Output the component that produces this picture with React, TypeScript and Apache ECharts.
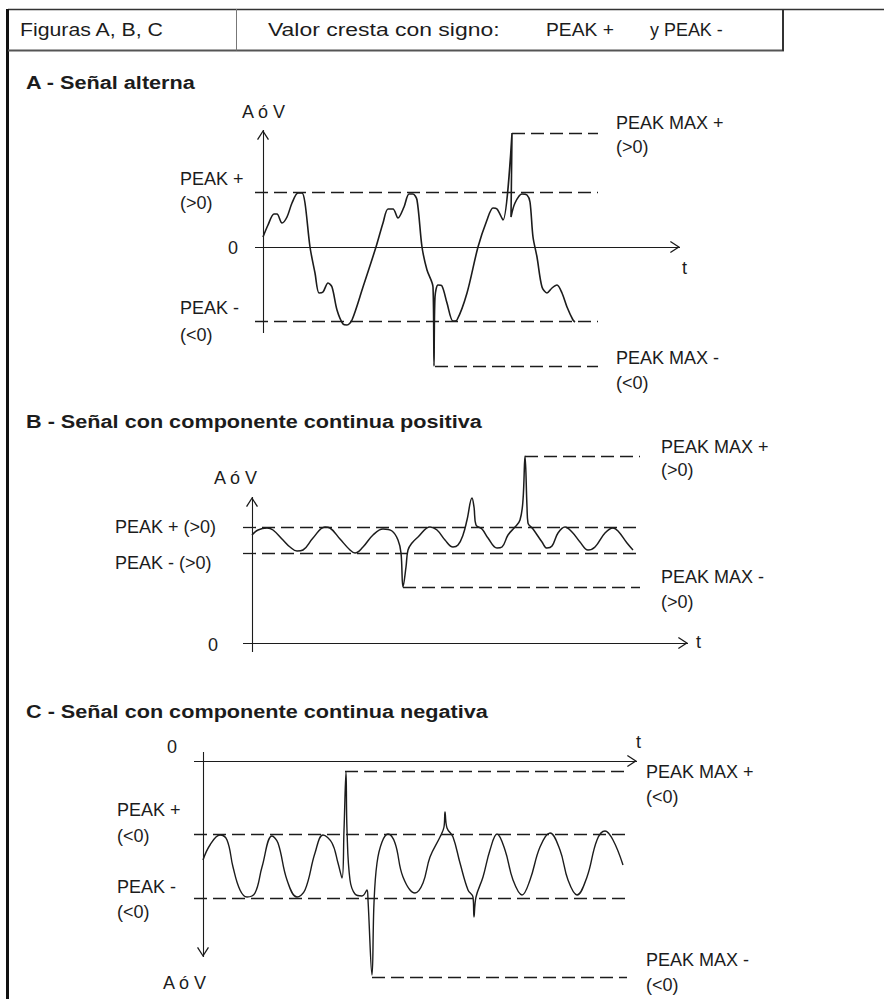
import React, { useEffect, useRef } from "react";
import * as echarts from "echarts";

const FONT = '"Liberation Sans", Arial, Helvetica, sans-serif';
const INK = "#1c1c1c";

// ---------- Panel A : señal alterna (t, amplitude) ----------
const signalA: number[][] = [
  [0.0, 1.0], [0.5, 2.2], [1.1, 3.3], [1.4, 3.3], [1.9, 2.4], [2.4, 3.0], [2.9, 4.4], [3.5, 5.4],
  [3.9, 5.4], [4.2, 4.4], [4.7, 0.0], [5.2, -2.6], [5.6, -4.6], [6.0, -4.5], [6.5, -3.6], [6.9, -4.0],
  [7.4, -6.3], [8.0, -7.7], [8.4, -7.8], [8.9, -7.3], [10.0, -4.0], [11.3, 0.0], [12.0, 2.4], [12.5, 3.8],
  [13.0, 3.8], [13.5, 2.9], [14.1, 4.0], [14.6, 5.3], [15.0, 5.3], [15.4, 4.7], [15.9, 0.0], [16.4, -2.3],
  [17.0, -4.0], [17.1, -11.9], [17.2, -5.0], [17.5, -3.8], [17.9, -3.9], [18.4, -5.6], [19.0, -7.4],
  [19.4, -7.3], [20.4, -4.6], [21.5, 0.0], [22.4, 2.7], [23.0, 3.9], [23.4, 3.8], [24.0, 2.7],
  [24.9, 11.4], [24.8, 3.0], [25.2, 4.4], [25.9, 5.3], [26.4, 5.2], [26.7, 4.5], [27.0, 1.0],
  [27.4, -1.0], [27.9, -4.0], [28.4, -4.6], [28.9, -4.1], [29.4, -3.8], [29.9, -4.6], [30.4, -6.0],
  [31.0, -7.3], [31.2, -7.5],
];
const peaksA = [5.5, -7.4]; // PEAK +, PEAK -
const peakMaxA = [11.4, -11.9]; // PEAK MAX +, PEAK MAX -
const peakMaxFromA = [24.9, 17.2];
const levelSpanA = [-0.8, 33.5];
const axisTA = [-0.8, 41.7];
const axisVA = [-8.6, 11.7];

// ---------- Panel B : componente continua positiva ----------
const signalB: number[][] = [
  [0.0, 10.8], [0.6, 11.3], [1.5, 11.5], [2.1, 11.3], [3.1, 10.3], [3.8, 9.6], [4.5, 9.2], [5.1, 9.3],
  [6.1, 10.5], [7.3, 11.6], [7.8, 11.5], [8.8, 10.4], [9.8, 9.3], [10.3, 9.0], [11.1, 9.6], [12.1, 10.8],
  [13.1, 11.4], [14.0, 11.2], [14.6, 10.3], [14.9, 9.0], [15.1, 5.6], [15.4, 7.6], [15.6, 9.3], [16.0, 10.0],
  [16.6, 10.6], [17.8, 11.6], [18.5, 11.3], [19.3, 10.3], [20.1, 9.6], [20.6, 9.8], [21.1, 10.8],
  [21.5, 12.3], [22.0, 14.5], [22.2, 13.6], [22.4, 11.8], [23.0, 11.4], [23.6, 10.5], [24.5, 9.5],
  [25.0, 9.6], [25.6, 10.8], [26.3, 11.6], [26.8, 12.3], [27.1, 14.3], [27.3, 18.7], [27.5, 13.6],
  [27.6, 12.0], [28.1, 11.4], [29.0, 10.1], [29.5, 9.5], [30.0, 9.7], [30.6, 11.0], [31.3, 11.6],
  [32.0, 11.1], [32.8, 10.1], [33.6, 9.3], [34.3, 9.6], [35.3, 11.0], [36.1, 11.5], [36.6, 11.2],
  [37.5, 10.0], [38.1, 9.3],
];
const peaksB = [11.6, 9.0];
const peakMaxB = [18.7, 5.6];
const peakMaxFromB = [27.3, 15.1];
const levelSpanB = [-0.9, 38.8];
const axisTB = [-0.9, 43.6];
const axisVB = [-0.9, 14.6];

// ---------- Panel C : componente continua negativa ----------
const signalC: number[][] = [
  [0.0, -9.9], [0.7, -8.4], [1.7, -7.4], [2.4, -7.9], [3.0, -10.6], [3.7, -12.9], [4.4, -13.6],
  [5.2, -13.2], [5.9, -10.6], [6.9, -7.5], [7.5, -8.2], [8.4, -11.9], [9.4, -13.6], [10.2, -12.9],
  [11.2, -9.2], [12.0, -7.4], [12.9, -8.2], [13.5, -10.2], [13.9, -11.7], [14.1, -6.9], [14.3, -1.1],
  [14.4, -6.9], [14.7, -11.9], [15.2, -13.3], [15.9, -13.5], [16.4, -12.9], [16.5, -13.9], [16.9, -21.4],
  [17.1, -14.2], [17.4, -10.2], [17.9, -8.1], [18.5, -7.3], [19.2, -8.2], [20.0, -11.6], [21.2, -13.2],
  [22.0, -12.2], [22.7, -9.6], [23.7, -7.6], [24.1, -6.6], [24.2, -5.1], [24.4, -6.7], [25.0, -7.6],
  [25.7, -10.2], [26.5, -12.9], [27.0, -13.6], [27.1, -15.6], [27.3, -13.6], [28.0, -11.6], [28.7, -8.9],
  [29.4, -7.3], [30.2, -8.9], [31.0, -11.9], [31.9, -13.4], [32.7, -11.9], [33.7, -8.6], [34.7, -7.2],
  [35.7, -8.9], [36.5, -11.9], [37.4, -13.4], [38.4, -11.6], [39.4, -7.9], [40.2, -7.0], [41.0, -7.9],
  [42.0, -10.4],
];
const peaksC = [-7.3, -13.7];
const peakMaxC = [-1.0, -21.6];
const peakMaxFromC = [14.2, 16.9];
const levelSpanC = [-0.9, 42.4];
const axisTC = [-0.9, 43.4];
const axisVC = [0.9, -19.6];

const CHEVRON = "path://M6,0 L12,10 L10.9,10.8 L6,2.5 L1.1,10.8 L0,10 Z";

function panelSeries(
  i: number,
  signal: number[][],
  peaks: number[],
  peakMax: number[],
  peakMaxFrom: number[],
  levelSpan: number[],
  axisT: number[],
  axisV: number[],
  width: number,
  smooth: number
) {
  const dash = { color: INK, width: 1.3, type: [13, 6] };
  const solid = { color: INK, width: 1.1, type: "solid" };
  const seg = (a: number[], b: number[], st: any) => [
    { coord: a, lineStyle: st },
    { coord: b, lineStyle: st },
  ];
  const arrow = (a: number[], b: number[]) => [
    { coord: a, lineStyle: solid, symbol: "none" },
    { coord: b, lineStyle: solid, symbol: CHEVRON, symbolSize: [12, 10], symbolOffset: [0, 5] },
  ];
  return {
    type: "line",
    xAxisIndex: i,
    yAxisIndex: i,
    data: signal,
    symbol: "none",
    showSymbol: false,
    smooth,
    clip: false,
    silent: true,
    lineStyle: { color: INK, width },
    markLine: {
      silent: true,
      animation: false,
      symbol: ["none", "none"],
      label: { show: false },
      emphasis: { disabled: true },
      data: [
        seg([levelSpan[0], peaks[0]], [levelSpan[1], peaks[0]], dash),
        seg([levelSpan[0], peaks[1]], [levelSpan[1], peaks[1]], dash),
        seg([peakMaxFrom[0], peakMax[0]], [levelSpan[1], peakMax[0]], dash),
        seg([peakMaxFrom[1], peakMax[1]], [levelSpan[1], peakMax[1]], dash),
        arrow([axisT[0], 0], [axisT[1], 0]),
        arrow([0, axisV[0]], [0, axisV[1]]),
      ],
    },
  };
}

const txt = (text: string, x: number, y: number, size = 18, bold = false, sx = 1) => ({
  type: "text",
  x,
  y,
  scaleX: sx,
  silent: true,
  style: {
    text,
    fill: INK,
    font: `${bold ? "bold " : ""}${size}px ${FONT}`,
    textVerticalAlign: "middle",
    verticalAlign: "middle",
  },
});

const ln = (x1: number, y1: number, x2: number, y2: number, w: number, c: string) => ({
  type: "line",
  silent: true,
  shape: { x1, y1, x2, y2 },
  style: { stroke: c, lineWidth: w },
});

export default function App() {
  const ref = useRef<HTMLDivElement>(null);
  useEffect(() => {
    const chart = echarts.init(ref.current!, null, { renderer: "svg" });
    const axisCommon = { type: "value", show: false, scale: false };
    const option: any = {
      animation: false,
      backgroundColor: "#ffffff",
      grid: [
        { left: 243, top: 117, width: 450, height: 260, containLabel: false },
        { left: 232, top: 423, width: 470, height: 240, containLabel: false },
        { left: 183, top: 741, width: 470, height: 250, containLabel: false },
      ],
      xAxis: [
        { ...axisCommon, gridIndex: 0, min: -2, max: 43 },
        { ...axisCommon, gridIndex: 1, min: -2, max: 45 },
        { ...axisCommon, gridIndex: 2, min: -2, max: 45 },
      ],
      yAxis: [
        { ...axisCommon, gridIndex: 0, min: -13, max: 13 },
        { ...axisCommon, gridIndex: 1, min: -2, max: 22 },
        { ...axisCommon, gridIndex: 2, min: -23, max: 2 },
      ],
      series: [
        panelSeries(0, signalA, peaksA, peakMaxA, peakMaxFromA, levelSpanA, axisTA, axisVA, 1.6, 0.3),
        panelSeries(1, signalB, peaksB, peakMaxB, peakMaxFromB, levelSpanB, axisTB, axisVB, 1.5, 0.4),
        panelSeries(2, signalC, peaksC, peakMaxC, peakMaxFromC, levelSpanC, axisTC, axisVC, 1.4, 0.4),
      ],
      graphic: {
        elements: [
          // frame
          ln(8, 9.5, 884, 9.5, 1.5, "#333"),
          ln(7.5, 9, 7.5, 999, 3, "#111"),
          ln(8, 50.5, 784, 50.5, 2, "#555"),
          ln(783, 9, 783, 51, 2, "#333"),
          ln(236.5, 9, 236.5, 50.5, 1, "#777"),
          // header
          txt("Figuras A, B, C", 20, 29.5, 18.5, false, 1.15),
          txt("Valor cresta con signo:", 268, 29.5, 18.5, false, 1.24),
          txt("PEAK +", 546, 29.5, 18.5, false, 1.04),
          txt("y PEAK -", 650, 29.5, 18.5, false, 0.97),
          // titles
          txt("A - Señal alterna", 26, 82, 19, true, 1.14),
          txt("B - Señal con componente continua positiva", 26, 421.5, 19, true, 1.14),
          txt("C - Señal con componente continua negativa", 26, 711.5, 19, true, 1.14),
          // panel A
          txt("A ó V", 242, 112),
          txt("PEAK +", 180, 179),
          txt("(>0)", 180, 203),
          txt("0", 228, 248),
          txt("PEAK -", 180, 308),
          txt("(<0)", 180, 335),
          txt("t", 682, 268),
          txt("PEAK MAX +", 616, 123),
          txt("(>0)", 616, 147),
          txt("PEAK MAX -", 616, 358),
          txt("(<0)", 616, 383),
          // panel B
          txt("A ó V", 214, 478),
          txt("PEAK + (>0)", 115, 527),
          txt("PEAK - (>0)", 115, 563),
          txt("0", 208, 645),
          txt("t", 696, 642),
          txt("PEAK MAX +", 661, 447),
          txt("(>0)", 661, 470),
          txt("PEAK MAX -", 661, 577),
          txt("(>0)", 661, 602),
          // panel C
          txt("0", 167, 747),
          txt("t", 636, 742),
          txt("PEAK +", 117, 810),
          txt("(<0)", 117, 836),
          txt("PEAK -", 117, 887),
          txt("(<0)", 117, 912),
          txt("A ó V", 163, 983),
          txt("PEAK MAX +", 646, 772),
          txt("(<0)", 646, 797),
          txt("PEAK MAX -", 646, 960),
          txt("(<0)", 646, 985),
        ],
      },
    };
    chart.setOption(option);
    return () => chart.dispose();
  }, []);
  return (
    <div
      ref={ref}
      style={{ position: "absolute", left: 0, top: 0, width: 884, height: 999, background: "#fff" }}
    />
  );
}
